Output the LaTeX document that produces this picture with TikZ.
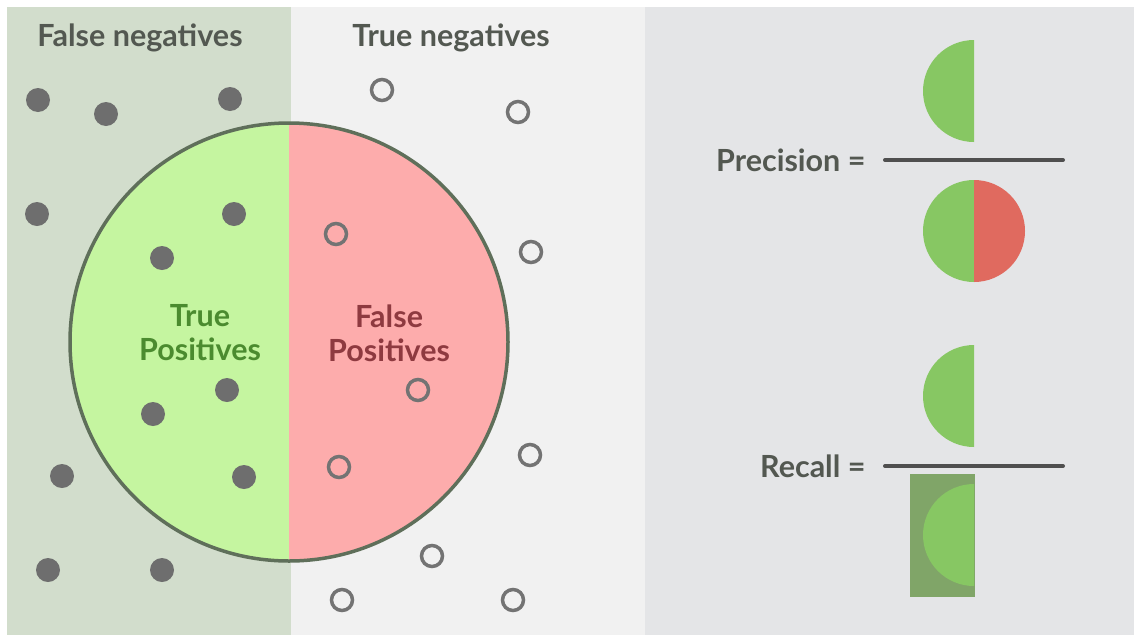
\documentclass[tikz,border=0pt]{standalone}
\usepackage{fontspec}
\setmainfont{Lato}
\definecolor{fnbg}{HTML}{D2DDCC}
\definecolor{tnbg}{HTML}{F1F1F1}
\definecolor{rbg}{HTML}{E4E5E7}
\definecolor{tpfill}{HTML}{C5F5A0}
\definecolor{fpfill}{HTML}{FDACAC}
\definecolor{rim}{HTML}{5F6F5A}
\definecolor{dotgray}{HTML}{6E6E6E}
\definecolor{ringgray}{HTML}{737373}
\definecolor{labelgray}{HTML}{535851}
\definecolor{tptext}{HTML}{4B8B2F}
\definecolor{fptext}{HTML}{8E3A40}
\definecolor{halfgreen}{HTML}{87C763}
\definecolor{halfred}{HTML}{E06A5F}
\definecolor{recallbox}{HTML}{80A568}
\definecolor{bargray}{HTML}{4F4F4F}
\begin{document}
\begin{tikzpicture}[x=1pt, y=-1pt, every node/.style={font=\bfseries\fontsize{30.5}{34}\selectfont}]
	\useasboundingbox (0,0) rectangle (1134,635);
	\fill[white] (0,0) rectangle (1134,635);
	% panels
	\fill[fnbg] (7,7) rectangle (291,635);
	\fill[tnbg] (291,7) rectangle (645,635);
	\fill[rbg] (645,7) rectangle (1134,635);
	
	% the big circle, split in two halves
	\fill[tpfill] (289,342) ++(0,219) arc (90:270:219) -- cycle;
	\fill[fpfill] (289,342) ++(0,-219) arc (-90:90:219) -- cycle;
	\draw[rim, line width=3.5] (289,342) circle (219);
	
	\foreach \x/\y in {38/100, 106/114, 230/99, 37/214, 234/214, 162/258, 227/390, 153/414, 62/476, 244/477, 48/570, 162/570}
	{
		\fill[dotgray] (\x,\y) circle (12);
	}
	\foreach \x/\y in {382/90, 518/112, 336/234, 531/252, 418/390, 530/455, 339/467, 432/556, 342/600, 513/600}
	{
		\draw[ringgray, line width=3.5] (\x,\y) circle (10.5);
	}
	
	\node[text=labelgray] (fn) at (140,38) {False negatives};
	\node[text=labelgray] (tn) at (451,38) {True negatives};
	\node[text=tptext, align=center] (tp) at (200,333) {True\\Positives};
	\node[text=fptext, align=center] (fp) at (389,333) {False\\Positives};
	
	% precision
	\node[text=labelgray, anchor=east] (prec) at (869,160) {Precision =};
	\draw[bargray, line width=4, line cap=round] (885,160) -- (1063,160);
	\fill[halfgreen] (974,91) ++(0,51) arc (90:270:51) -- cycle;
	\fill[halfgreen] (974,231) ++(0,51) arc (90:270:51) -- cycle;
	\fill[halfred] (974,231) ++(0,-51) arc (-90:90:51) -- cycle;
	
	% recall
	\node[text=labelgray, anchor=east] (rec) at (869,466) {Recall =};
	\draw[bargray, line width=4, line cap=round] (885,466) -- (1063,466);
	\fill[halfgreen] (974,396) ++(0,51) arc (90:270:51) -- cycle;
	\fill[recallbox] (910,474) rectangle (975,597);
	\fill[halfgreen] (974,535) ++(0,51) arc (90:270:51) -- cycle;
\end{tikzpicture}
\end{document}
